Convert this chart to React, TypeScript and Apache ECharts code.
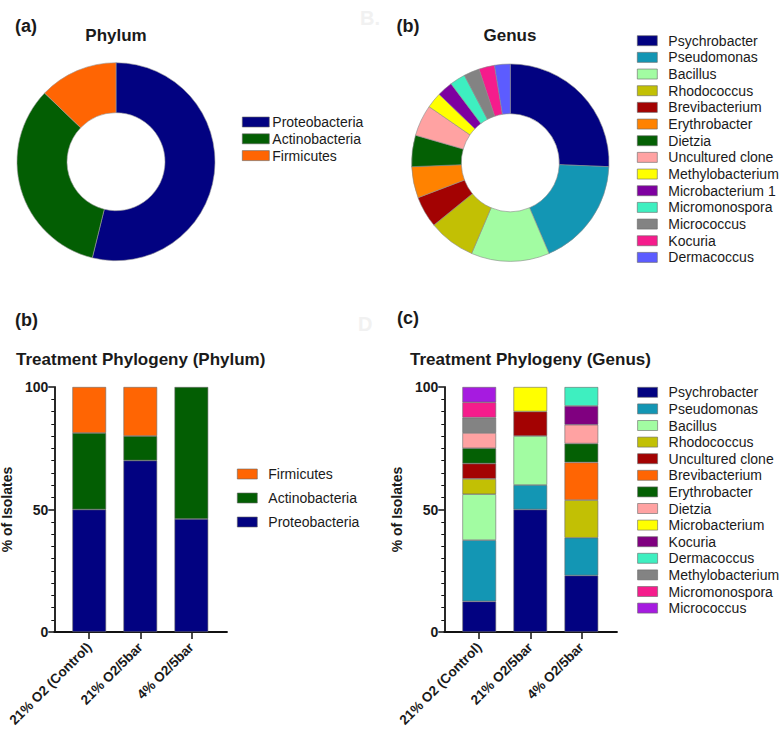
import React, { useEffect, useRef } from 'react';
import * as echarts from 'echarts';

const FONT = "'Liberation Sans', Arial, Helvetica, sans-serif";

// ---- Donut (a): Phylum (isolate counts)
const phylumNames = ['Proteobacteria', 'Actinobacteria', 'Firmicutes'];
const phylumCounts = [21, 13, 5];
const phylumColors = ['#020281', '#035E03', '#FF6503'];

// ---- Donut (b): Genus (isolate counts)
const genusNames = [
  'Psychrobacter', 'Pseudomonas', 'Bacillus', 'Rhodococcus', 'Brevibacterium',
  'Erythrobacter', 'Dietzia', 'Uncultured clone', 'Methylobacterium',
  'Microbacterium 1', 'Micromonospora', 'Micrococcus', 'Kocuria', 'Dermacoccus',
];
const genusCounts = [10, 7, 5, 3, 2, 2, 2, 2, 1, 1, 1, 1, 1, 1];
const genusColors = [
  '#020281', '#1396B4', '#A2FCA2', '#C2C004', '#A30202',
  '#FF8200', '#046004', '#FFA2A2', '#FFFF00',
  '#7E00A0', '#3EEFC0', '#838383', '#F51C8C', '#5C5CFF',
];

// ---- Bars: treatments
const treatments = ['21% O2 (Control)', '21% O2/5bar', '4% O2/5bar'];
const yTicks = [0, 50, 100];

// Phylum stacked bars (% of isolates), bottom to top
const proteobacteriaPct = [50, 70, 46.15];
const actinobacteriaPct = [31.25, 10, 53.85];
const firmicutesPct = [18.75, 20, 0];
const phylumBarNames = ['Proteobacteria', 'Actinobacteria', 'Firmicutes'];
const phylumBarValues = [proteobacteriaPct, actinobacteriaPct, firmicutesPct];
const phylumBarColors = ['#020281', '#035E03', '#FF6503'];
const phylumBarLegend = ['Firmicutes', 'Actinobacteria', 'Proteobacteria'];

// Genus stacked bars (% of isolates), bottom to top
const psychrobacterPct = [12.5, 50, 23.08];
const pseudomonasPct = [25, 10, 15.38];
const bacillusPct = [18.75, 20, 0];
const rhodococcusPct = [6.25, 0, 15.38];
const unculturedClonePct = [6.25, 10, 0];
const brevibacteriumPct = [0, 0, 15.38];
const erythrobacterPct = [6.25, 0, 7.69];
const dietziaPct = [6.25, 0, 7.69];
const microbacteriumPct = [0, 10, 0];
const kocuriaPct = [0, 0, 7.69];
const dermacoccusPct = [0, 0, 7.69];
const methylobacteriumPct = [6.25, 0, 0];
const micromonosporaPct = [6.25, 0, 0];
const micrococcusPct = [6.25, 0, 0];
const genusBarNames = [
  'Psychrobacter', 'Pseudomonas', 'Bacillus', 'Rhodococcus', 'Uncultured clone',
  'Brevibacterium', 'Erythrobacter', 'Dietzia', 'Microbacterium', 'Kocuria',
  'Dermacoccus', 'Methylobacterium', 'Micromonospora', 'Micrococcus',
];
const genusBarValues = [
  psychrobacterPct, pseudomonasPct, bacillusPct, rhodococcusPct, unculturedClonePct,
  brevibacteriumPct, erythrobacterPct, dietziaPct, microbacteriumPct, kocuriaPct,
  dermacoccusPct, methylobacteriumPct, micromonosporaPct, micrococcusPct,
];
const genusBarColors = [
  '#020281', '#1396B4', '#A2FCA2', '#C2C004', '#A30202',
  '#FF6503', '#046004', '#FFA2A2', '#FFFF00', '#800080',
  '#3EEFC0', '#838383', '#F51C8C', '#A61BE0',
];

const TEXT = '#1a1a1a';

function buildOption() {
  const legendText = { fontSize: 14, fontFamily: FONT, color: TEXT, lineHeight: 14 };
  const swatch = (color: string) => ({ color, borderColor: '#666', borderWidth: 0.6 });

  const g = (left: number, width: number) => ({
    left, top: 387, width, height: 245, containLabel: false, outerBoundsMode: 'none',
  });
  const grid = [g(54.3, 172.7), g(444.3, 172.7), g(63.7, 153.2), g(453.7, 153.2)];

  const xAxis: any[] = [];
  const yAxis: any[] = [];
  // axis-only grids (0,1)
  for (let i = 0; i < 2; i++) {
    xAxis.push({
      gridIndex: i, type: 'value', min: 0, max: 1,
      axisLine: { show: true, lineStyle: { color: '#111', width: 1.8 } },
      axisTick: { show: false }, axisLabel: { show: false }, splitLine: { show: false },
    });
    yAxis.push({
      gridIndex: i, type: 'value', min: 0, max: 100, interval: 50,
      axisLine: { show: true, lineStyle: { color: '#111', width: 1.8 } },
      axisTick: { show: true, length: 6, lineStyle: { color: '#111', width: 1.5 } },
      minorTick: { show: true, splitNumber: 10, length: 3, lineStyle: { color: '#111', width: 1 } },
      axisLabel: {
        margin: 6, fontSize: 14, fontWeight: 'bold', fontFamily: FONT, color: TEXT,
        customValues: yTicks,
      },
      splitLine: { show: false },
      name: '% of Isolates', nameLocation: 'middle', nameGap: 40, nameRotate: 90,
      nameTextStyle: { fontSize: 14, fontWeight: 'bold', fontFamily: FONT, color: TEXT },
    });
  }
  // bar grids (2,3)
  for (let i = 2; i < 4; i++) {
    xAxis.push({
      gridIndex: i, type: 'category', data: treatments,
      axisLine: { show: false },
      axisTick: { show: true, alignWithLabel: true, length: 7, lineStyle: { color: '#111', width: 1.5 } },
      axisLabel: {
        rotate: 45, margin: 13, fontSize: 13.5, fontWeight: 'bold', fontFamily: FONT, color: TEXT,
        interval: 0,
      },
    });
    yAxis.push({
      gridIndex: i, type: 'value', min: 0, max: 100, show: false, splitLine: { show: false },
    });
  }

  const nz = (arr: number[]) => arr.map((v) => (v > 0 ? v : '-'));

  const series: any[] = [];
  series.push({
    type: 'pie', name: 'Phylum', center: [116, 161.7], radius: [49, 99],
    startAngle: 90, clockwise: true, label: { show: false }, labelLine: { show: false },
    itemStyle: { borderColor: '#9a9a9a', borderWidth: 0.6 },
    emphasis: { disabled: true },
    data: phylumNames.map((n, i) => ({ name: n, value: phylumCounts[i], itemStyle: { color: phylumColors[i] } })),
  });
  series.push({
    type: 'pie', name: 'Genus', center: [510.3, 162.7], radius: [49, 98.7],
    startAngle: 90, clockwise: true, label: { show: false }, labelLine: { show: false },
    itemStyle: { borderColor: '#8a8a8a', borderWidth: 0.6 },
    emphasis: { disabled: true },
    data: genusNames.map((n, i) => ({ name: n, value: genusCounts[i], itemStyle: { color: genusColors[i] } })),
  });
  phylumBarNames.forEach((n, i) => {
    series.push({
      type: 'bar', name: n, xAxisIndex: 2, yAxisIndex: 2, stack: 'phylum', barWidth: 33.7,
      itemStyle: { color: phylumBarColors[i], borderColor: '#6a6a6a', borderWidth: 0.6 },
      emphasis: { disabled: true },
      data: nz(phylumBarValues[i]),
    });
  });
  genusBarNames.forEach((n, i) => {
    series.push({
      type: 'bar', name: n, xAxisIndex: 3, yAxisIndex: 3, stack: 'genus', barWidth: 33.7,
      itemStyle: { color: genusBarColors[i], borderColor: '#6a6a6a', borderWidth: 0.6 },
      emphasis: { disabled: true },
      data: nz(genusBarValues[i]),
    });
  });

  const legend = [
    {
      orient: 'vertical', left: 242, top: 115, padding: 0, itemWidth: 27, itemHeight: 10, itemGap: 2.8,
      selectedMode: false, icon: 'rect', textStyle: { ...legendText, padding: [0, 0, 0, -2] },
      data: phylumNames.map((n, i) => ({ name: n, itemStyle: swatch(phylumColors[i]) })),
    },
    {
      orient: 'vertical', left: 637, top: 33.7, padding: 0, itemWidth: 20, itemHeight: 10, itemGap: 2.67,
      selectedMode: false, icon: 'rect', textStyle: { ...legendText, padding: [0, 0, 0, 6] },
      data: genusNames.map((n, i) => ({ name: n, itemStyle: swatch(genusColors[i]) })),
    },
    {
      orient: 'vertical', left: 237, top: 467, padding: 0, itemWidth: 20, itemHeight: 10, itemGap: 10,
      selectedMode: false, icon: 'rect', textStyle: { ...legendText, padding: [0, 0, 0, 6] },
      data: phylumBarLegend.map((n) => ({ name: n, itemStyle: swatch(phylumBarColors[phylumBarNames.indexOf(n)]) })),
    },
    {
      orient: 'vertical', left: 637.3, top: 385.3, padding: 0, itemWidth: 20, itemHeight: 10, itemGap: 2.6,
      selectedMode: false, icon: 'rect', textStyle: { ...legendText, padding: [0, 0, 0, 6] },
      data: genusBarNames.map((n, i) => ({ name: n, itemStyle: swatch(genusBarColors[i]) })),
    },
  ];

  const t = (text: string, x: number, y: number, size: number, align: string, color = TEXT, weight = 'bold') => ({
    type: 'text', x, y, silent: true,
    style: { text, fontSize: size, fontWeight: weight, fontFamily: FONT, fill: color, textAlign: align, textVerticalAlign: 'middle' },
  });

  const graphic = [
    t('B.', 360, 18, 20, 'left', '#f1f1f1'),
    t('D', 358, 324, 20, 'left', '#f1f1f1'),
    t('(a)', 15, 25.5, 18, 'left'),
    t('(b)', 396.5, 25.5, 18, 'left'),
    t('(b)', 15, 320, 18, 'left'),
    t('(c)', 397, 318, 18, 'left'),
    t('Phylum', 116, 35, 17, 'center'),
    t('Genus', 510, 35, 17, 'center'),
    t('Treatment Phylogeny (Phylum)', 16, 359, 17, 'left'),
    t('Treatment Phylogeny (Genus)', 410, 359, 17, 'left'),
  ];

  return {
    animation: false,
    backgroundColor: '#ffffff',
    textStyle: { fontFamily: FONT },
    grid, xAxis, yAxis, series, legend, graphic,
  };
}

export default function App() {
  const ref = useRef<HTMLDivElement>(null);
  useEffect(() => {
    if (!ref.current) return;
    const chart = echarts.init(ref.current, undefined, { renderer: 'svg' });
    chart.setOption(buildOption() as any);
    return () => chart.dispose();
  }, []);
  return (
    <div
      ref={ref}
      style={{ position: 'fixed', left: 0, top: 0, width: 782, height: 730, background: '#fff' }}
    />
  );
}
